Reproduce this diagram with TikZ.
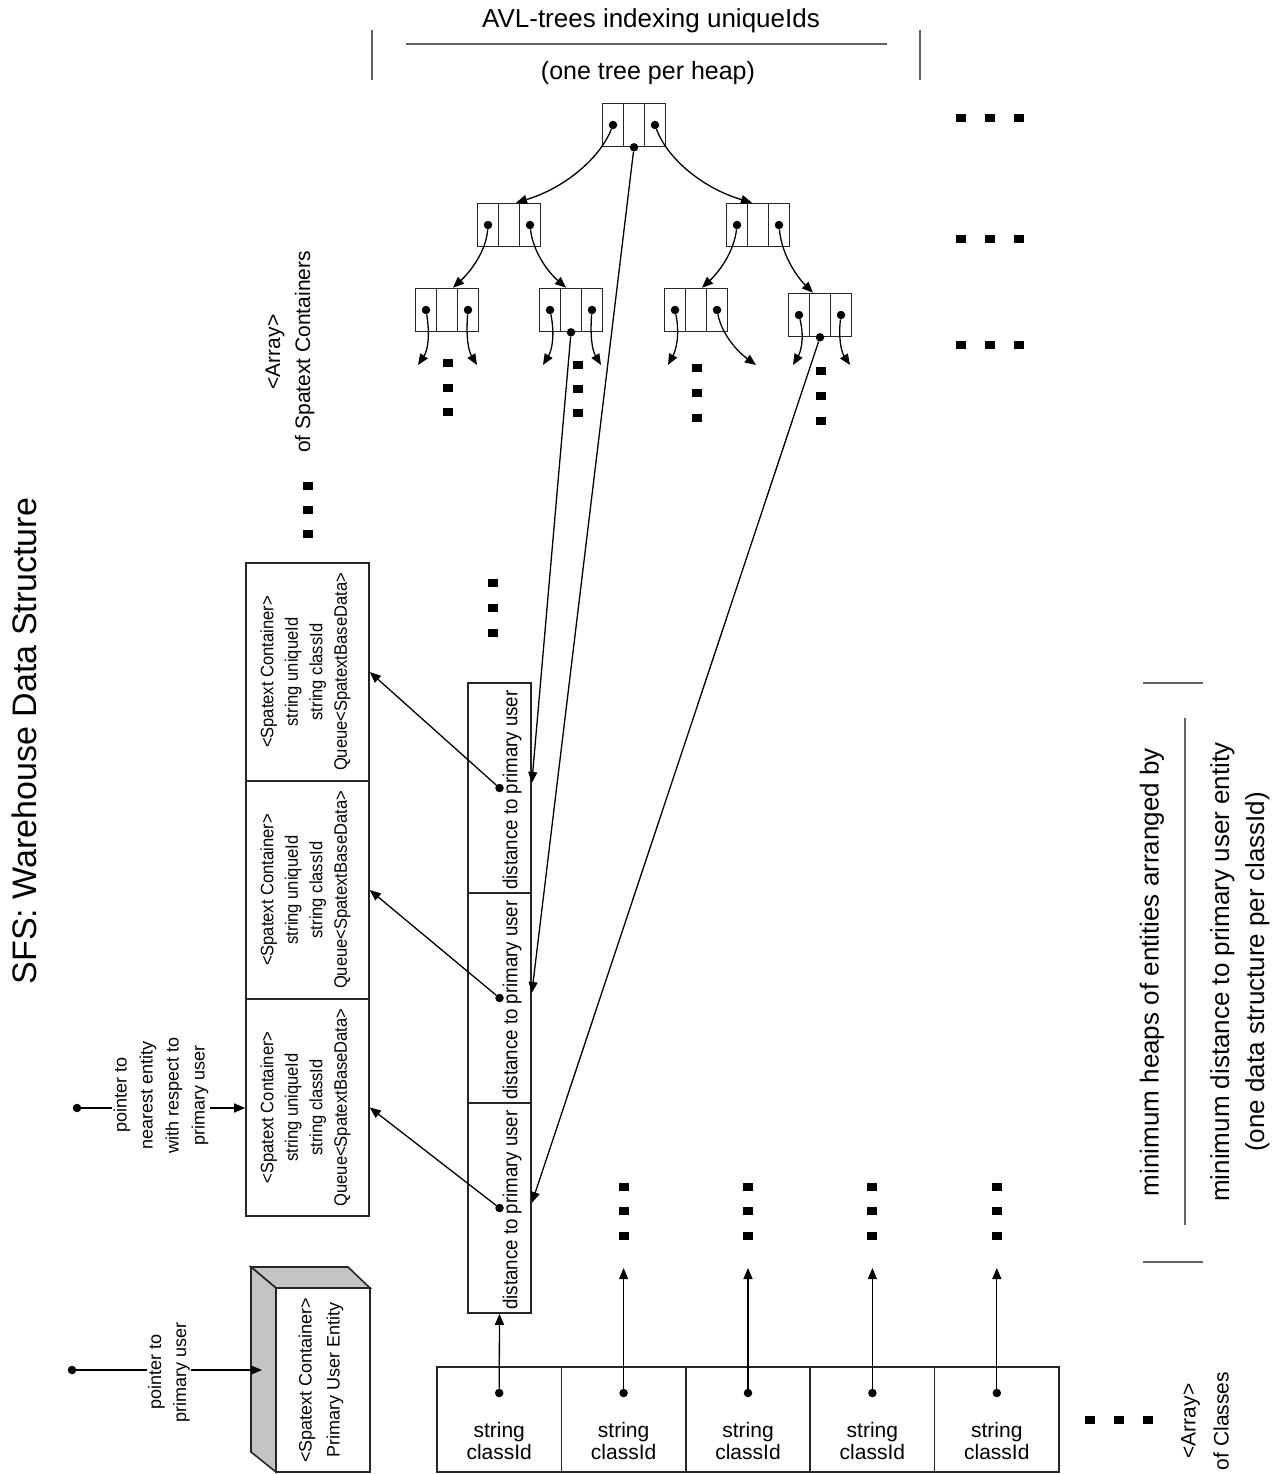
\documentclass[tikz,border=0pt]{standalone}
\usepackage{fontspec}
\setmainfont{Liberation Sans}
\newfontfamily\narrowfont{Liberation Sans}[FakeStretch=0.92]
\usetikzlibrary{arrows.meta,calc}
\definecolor{sidegray}{RGB}{196,196,196}
\definecolor{sepgray}{RGB}{100,100,100}
\newcommand\myfs[2]{\fontsize{#1}{#2}\selectfont}
\begin{document}
\begin{tikzpicture}[x=1pt,y=-1pt,
  boxl/.style={draw=black!85,line width=1.6pt},
  tnode/.style={boxl,minimum width=63pt,minimum height=43pt,inner sep=0pt},
  dcell/.style={boxl,minimum width=63pt,minimum height=210pt,inner sep=0pt},
  ccell/.style={boxl,minimum width=123pt,minimum height=218pt,inner sep=0pt},
  kcell/.style={boxl,minimum width=124.4pt,minimum height=105pt,inner sep=0pt},
  dot/.style={circle,fill=black,inner sep=0pt,minimum size=8.5pt},
  sq/.style={fill=black,inner sep=0pt,minimum width=10pt,minimum height=8.5pt},
  arr/.style={-{Triangle[length=11pt,width=9pt]},line width=1.3pt},
  sepl/.style={draw=sepgray,line width=1.4pt},
  rtext/.style={rotate=90,align=center,inner sep=1pt}
]
\useasboundingbox (0,0) rectangle (1282,1474);

% ---------- titles ----------
\node[rtext,font=\myfs{34}{40}] (title) at (24,741) {SFS: Warehouse Data Structure};

\node[anchor=base,font=\myfs{26}{30}] (avlt) at (651,28) {AVL-trees indexing uniqueIds};
\node[anchor=base,font=\myfs{25}{30}] (avls) at (648,80) {(one tree per heap)};
\draw[sepl] (406,44) -- (887,44);
\draw[sepl] (372,30) -- (372,80);
\draw[sepl] (920,30) -- (920,80);

\node[rtext,font=\myfs{26}{30}] (heapt) at (1152,972) {minimum heaps of entities arranged by};
\node[rtext,font=\myfs{26}{35}] (heaps) at (1240,972) {minimum distance to primary user entity\\(one data structure per classId)};
\draw[sepl] (1185,718) -- (1185,1225);
\draw[sepl] (1143,683) -- (1203,683);
\draw[sepl] (1143,1262) -- (1203,1262);

\node[rtext,font=\myfs{21}{33}] (arrcls) at (1205,1421) {<Array>\\of Classes};
\node[rtext,font=\myfs{21}{30}] (arrspt) at (290,352) {<Array>\\of Spatext Containers};

% ---------- AVL tree ----------
\newcommand\avlnode[3]{%
  \node[tnode] (#1) at (#2,#3) {};
  \draw[boxl] ([xshift=-10.5pt]#1.north) -- ([xshift=-10.5pt]#1.south);
  \draw[boxl] ([xshift=10.5pt]#1.north) -- ([xshift=10.5pt]#1.south);
  \node[dot] (#1l) at ([xshift=-21pt]#1.center) {};
  \node[dot] (#1r) at ([xshift=21pt]#1.center) {};
}
\avlnode{root}{634}{125}
\avlnode{aL}{509}{225}
\avlnode{aR}{758}{225}
\avlnode{bLL}{447}{310}
\avlnode{bLR}{571}{310}
\avlnode{bRL}{696}{310}
\avlnode{bRR}{820}{315}
\node[dot] (rootm) at (root.south) {};
\node[dot] (bLRm) at (bLR.south) {};
\node[dot] (bRRm) at (bRR.south) {};

\draw[arr] (rootl) .. controls (600,158) and (565,188) .. ([xshift=7pt]aL.north);
\draw[arr] (rootr) .. controls (667,158) and (702,188) .. ([xshift=-6pt]aR.north);
\draw[arr] (aLl) .. controls (486,252) and (470,272) .. ([xshift=6pt]bLL.north);
\draw[arr] (aLr) .. controls (533,252) and (548,272) .. ([xshift=-5pt]bLR.north);
\draw[arr] (aRl) .. controls (734,252) and (719,272) .. ([xshift=6pt]bRL.north);
\draw[arr] (aRr) .. controls (782,258) and (800,280) .. ([xshift=-7pt]bRR.north);

\coordinate (e1) at (418,365);
\coordinate (e2) at (477,365);
\coordinate (e3) at (543,365);
\coordinate (e4) at (601,365);
\coordinate (e5) at (668,365);
\coordinate (e6) at (756,365);
\coordinate (e7) at (793,365);
\coordinate (e8) at (850,365);
\draw[arr] (bLLl) .. controls (430,335) and (428,350) .. (e1);
\draw[arr] (bLLr) .. controls (466,335) and (468,350) .. (e2);
\draw[arr] (bLRl) .. controls (555,335) and (552,350) .. (e3);
\draw[arr] (bLRr) .. controls (590,335) and (592,350) .. (e4);
\draw[arr] (bRLl) .. controls (680,335) and (676,350) .. (e5);
\draw[arr] (bRLr) .. controls (722,335) and (738,352) .. (e6);
\draw[arr] (bRRl) .. controls (805,340) and (800,353) .. (e7);
\draw[arr] (bRRr) .. controls (838,340) and (842,353) .. (e8);

% ellipsis squares
\foreach \x/\y [count=\i] in {447.7/363,447.7/388,447.7/412,
    578/365,578/389,578/413,
    696.7/368,696.7/393,696.7/418,
    821/371,821/396,821/421,
    961/118,990/118,1019/118,
    961/239,990/239,1019/239,
    961/345,990/345,1019/345,
    308/486,308/510,308/534,
    493/583,493/608,493/633,
    623.6/1187,623.6/1211,623.6/1236,
    748/1187,748/1211,748/1236,
    872.4/1187,872.4/1211,872.4/1236,
    996.8/1187,996.8/1211,996.8/1236,
    1090/1420,1119/1420,1148/1420}
  \node[sq] (sq\i) at (\x,\y) {};

% ---------- Spatext containers ----------
\node[ccell] (c1) at (307.5,672) {};
\node[ccell] (c2) at (307.5,890) {};
\node[ccell,minimum height=217pt] (c3) at (307.5,1107.5) {};
\foreach \n in {1,2,3}
  \node[rtext,font=\narrowfont\myfs{18}{24.5}] (c\n t) at ([xshift=-2pt]c\n.center)
    {<Spatext Container>\\string uniqueId\\string classId\\Queue<SpatextBaseData>};

% ---------- distance cells ----------
\node[dcell] (d1) at (499.5,788) {};
\node[dcell] (d2) at (499.5,998) {};
\node[dcell] (d3) at (499.5,1208) {};
\foreach \n in {1,2,3}{
  \node[rtext,font=\narrowfont\myfs{20.3}{22}] (d\n t) at ([xshift=12.5pt,yshift=-2pt]d\n.center) {distance to primary user};
  \node[dot] (d\n dot) at (d\n.center) {};
  \coordinate (d\n in) at ([yshift=5pt]d\n.east);
  \draw[arr] (d\n dot) -- (c\n.east);
}
\draw[arr] (bLRm) -- (d1in);
\draw[arr] (rootm) -- (d2in);
\draw[arr] (bRRm) -- (d3in);

% ---------- array of classes ----------
\foreach \n/\x in {1/499.2,2/623.6,3/748,4/872.4,5/996.8}{
  \node[kcell] (k\n) at (\x,1419.5) {};
  \node[align=center,font=\myfs{21}{22}] (k\n t) at ([yshift=-21.5pt]k\n.center) {string\\classId};
  \node[dot] (k\n dot) at ([yshift=26.5pt]k\n.center) {};
}
\draw[arr] (k1dot) -- (d3.south);
\foreach \n in {2,3,4,5}{
  \coordinate (k\n top) at ([yshift=125pt]k\n dot);
  \draw[arr] (k\n dot) -- (k\n top);
}

% ---------- primary user entity ----------
\coordinate (pufnw) at (276,1288);
\coordinate (pufne) at (370,1288);
\coordinate (pufsw) at (276,1472);
\filldraw[boxl,fill=sidegray] (pufnw) -- ++(-25,-21) -- ([shift={(-22,-21)}]pufne) -- (pufne) -- cycle;
\filldraw[boxl,fill=sidegray] (pufnw) -- ++(-25,-21) -- ([shift={(-25,-20)}]pufsw) -- (pufsw) -- cycle;
\node[boxl,fill=white,minimum width=94pt,minimum height=184pt,inner sep=0pt] (pu) at (323,1380) {};
\node[rtext,font=\myfs{18}{28}] (put) at (321,1380) {<Spatext Container>\\Primary User Entity};

% pointer to primary user
\node[dot] (p1) at (72,1370) {};
\node[rtext,font=\myfs{18}{25}] (p1t) at (169,1372) {pointer to\\primary user};
\coordinate (p1tip) at (262,1370);
\draw[line width=1.3pt] (p1) -- (p1 -| p1t.north);
\draw[arr] (p1 -| p1t.south) -- (p1tip);

% pointer to nearest entity
\node[dot] (p2) at (77,1108) {};
\node[rtext,font=\myfs{18}{26}] (p2t) at (161,1095) {pointer to\\nearest entity\\with respect to\\primary user};
\draw[line width=1.3pt] (p2) -- (p2 -| p2t.north);
\draw[arr] (p2 -| p2t.south) -- (p2 -| c3.west);
\end{tikzpicture}
\end{document}
